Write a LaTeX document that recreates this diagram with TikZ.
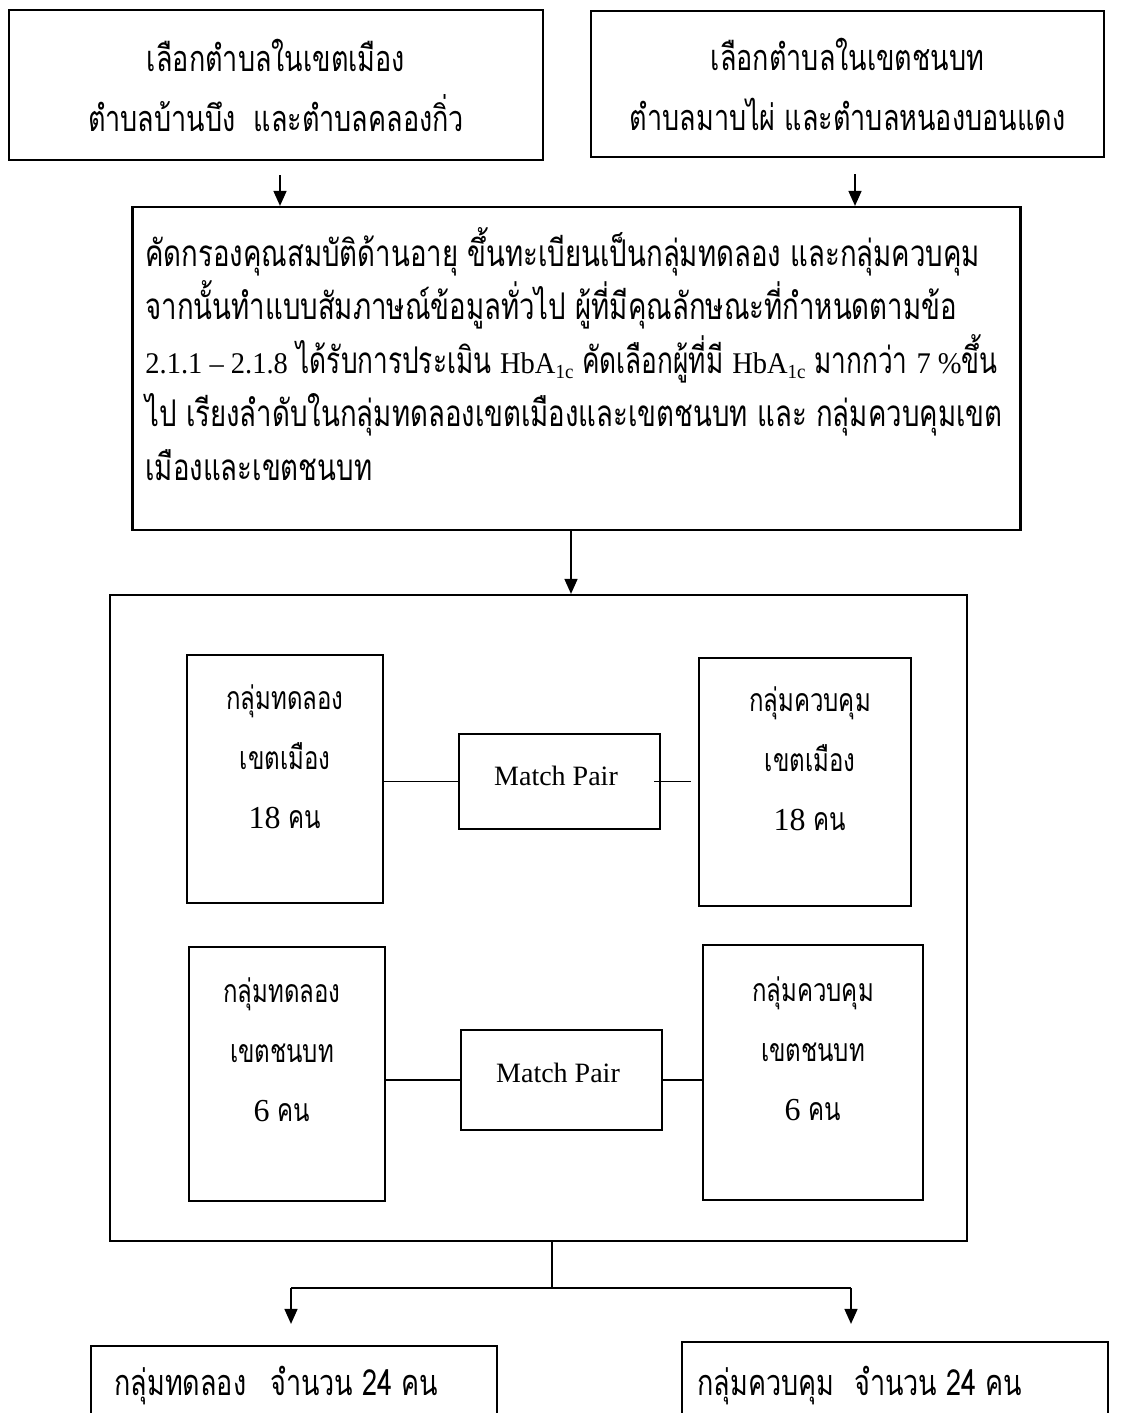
\documentclass[tikz,border=0pt]{standalone}
\usepackage{fontspec}
\usepackage{graphicx}
\setmainfont{Liberation Serif}
\newfontfamily\thai[Script=Thai,FakeStretch=0.75]{Loma}
\newfontfamily\lat{Liberation Serif}
\usetikzlibrary{arrows.meta}
\newcommand{\latin}[1]{{\lat\fontsize{15pt}{18pt}\selectfont #1}}
\newcommand{\hba}{\latin{HbA\raisebox{-0.35ex}{\fontsize{10pt}{10pt}\selectfont 1c}}}
\tikzset{
  box/.style={draw, line width=1.1pt, inner sep=0pt},
  conn/.style={line width=0.8pt},
  arr/.style={line width=0.8pt, -{Triangle[length=7.5pt,width=6.5pt]}},
  thtext/.style={inner sep=0pt, align=center, font=\thai\fontsize{18pt}{30pt}\selectfont},
  grp/.style={inner sep=0pt, align=center, font=\thai\fontsize{16pt}{29.75pt}\selectfont},
  mptext/.style={font=\lat\fontsize{14pt}{16pt}\selectfont},
}
\begin{document}
\begin{tikzpicture}[x=0.5pt,y=-0.5pt]
\clip (0,0) rectangle (1127,1413);
\fill[white] (0,0) rectangle (1127,1413);
% top boxes
\node[box, thtext, minimum width=267pt, minimum height=75pt] (top1) at (276,85)
  {เลือกตำบลในเขตเมือง\\ตำบลบ้านบึง \ และตำบลคลองกิ่ว};
\node[box, thtext, minimum width=256.5pt, minimum height=73pt] (top2) at (847.5,84)
  {เลือกตำบลในเขตชนบท\\ตำบลมาบไผ่ และตำบลหนองบอนแดง};
% middle box
\node[box, minimum width=444pt, minimum height=161.5pt] (mid) at (576.5,368.5) {};
\node[inner sep=0pt, anchor=west, align=left, font=\thai\fontsize{18.4pt}{26.75pt}\selectfont] (midtext) at (145,354)
  {คัดกรองคุณสมบัติด้านอายุ ขึ้นทะเบียนเป็นกลุ่มทดลอง และกลุ่มควบคุม\\
   จากนั้นทำแบบสัมภาษณ์ข้อมูลทั่วไป ผู้ที่มีคุณลักษณะที่กำหนดตามข้อ\\
   \scalebox{0.95}[1]{\latin{2.1.1 – 2.1.8} ได้รับการประเมิน \hba{} คัดเลือกผู้ที่มี \hba{} มากกว่า \latin{7 \%}ขึ้น}\\
   ไป เรียงลำดับในกลุ่มทดลองเขตเมืองและเขตชนบท และ กลุ่มควบคุมเขต\\
   เมืองและเขตชนบท};
% big box
\node[box, minimum width=428.5pt, minimum height=323pt] (big) at (538.5,918) {};
% inner boxes
\node[box, minimum width=98pt, minimum height=124pt] (tl) at (285,779) {};
\node[grp] (tltext) at (285,757) {กลุ่มทดลอง\\เขตเมือง\\{\lat 18} คน};
\node[box, mptext, minimum width=100.5pt, minimum height=47.5pt] (mp1) at (559.5,781.5) {};
\node[mptext, inner sep=0pt] (mp1text) at (556,776) {Match Pair};
\node[box, minimum width=106pt, minimum height=124pt] (tr) at (805,782) {};
\node[grp] (trtext) at (810,759) {กลุ่มควบคุม\\เขตเมือง\\{\lat 18} คน};
\node[box, minimum width=98pt, minimum height=127pt] (bl) at (287,1074) {};
\node[grp] (bltext) at (282,1050) {กลุ่มทดลอง\\เขตชนบท\\{\lat 6} คน};
\node[box, minimum width=100.5pt, minimum height=50pt] (mp2) at (561.5,1080) {};
\node[mptext, inner sep=0pt] (mp2text) at (558,1073) {Match Pair};
\node[box, minimum width=110pt, minimum height=127.5pt] (br) at (813,1072.5) {};
\node[grp] (brtext) at (813,1049) {กลุ่มควบคุม\\เขตชนบท\\{\lat 6} คน};
% bottom boxes
\node[box, minimum width=203pt, minimum height=40pt] (bot1) at (294,1386) {};
\node[thtext, anchor=west] (bot1text) at (114,1386) {กลุ่มทดลอง\hspace{12pt}จำนวน 24 คน};
\node[box, minimum width=213pt, minimum height=44pt] (bot2) at (895,1386) {};
\node[thtext, anchor=west] (bot2text) at (697,1386) {กลุ่มควบคุม\hspace{10pt}จำนวน 24 คน};
% junction coordinates
\coordinate (a1) at (280,0);
\coordinate (a2) at (855,0);
\coordinate (a3) at (571,0);
\coordinate (a4) at (552,0);
\coordinate (j) at (552,1288);
\coordinate (jl) at (291,1288);
\coordinate (jr) at (851,1288);
% connectors
\draw[arr, shorten <=7pt] (top1.south -| a1) -- (mid.north -| a1);
\draw[arr, shorten <=8pt] (top2.south -| a2) -- (mid.north -| a2);
\draw[arr] (mid.south -| a3) -- (big.north -| a3);
\draw[conn] (tl.east |- mp1.west) -- (mp1.west);
\draw[conn] ([xshift=-3.5pt]mp1.east) -- ([xshift=-3.5pt]tr.west |- mp1.east);
\draw[conn] (bl.east |- mp2.west) -- (mp2.west);
\draw[conn] (mp2.east) -- (br.west |- mp2.east);
\draw[conn] (big.south -| a4) -- (j);
\draw[conn] (jl) -- (jr);
\draw[arr, shorten >=10.5pt] (jl) -- (bot1.north -| jl);
\draw[arr, shorten >=8.5pt] (jr) -- (bot2.north -| jr);
\end{tikzpicture}
\end{document}
